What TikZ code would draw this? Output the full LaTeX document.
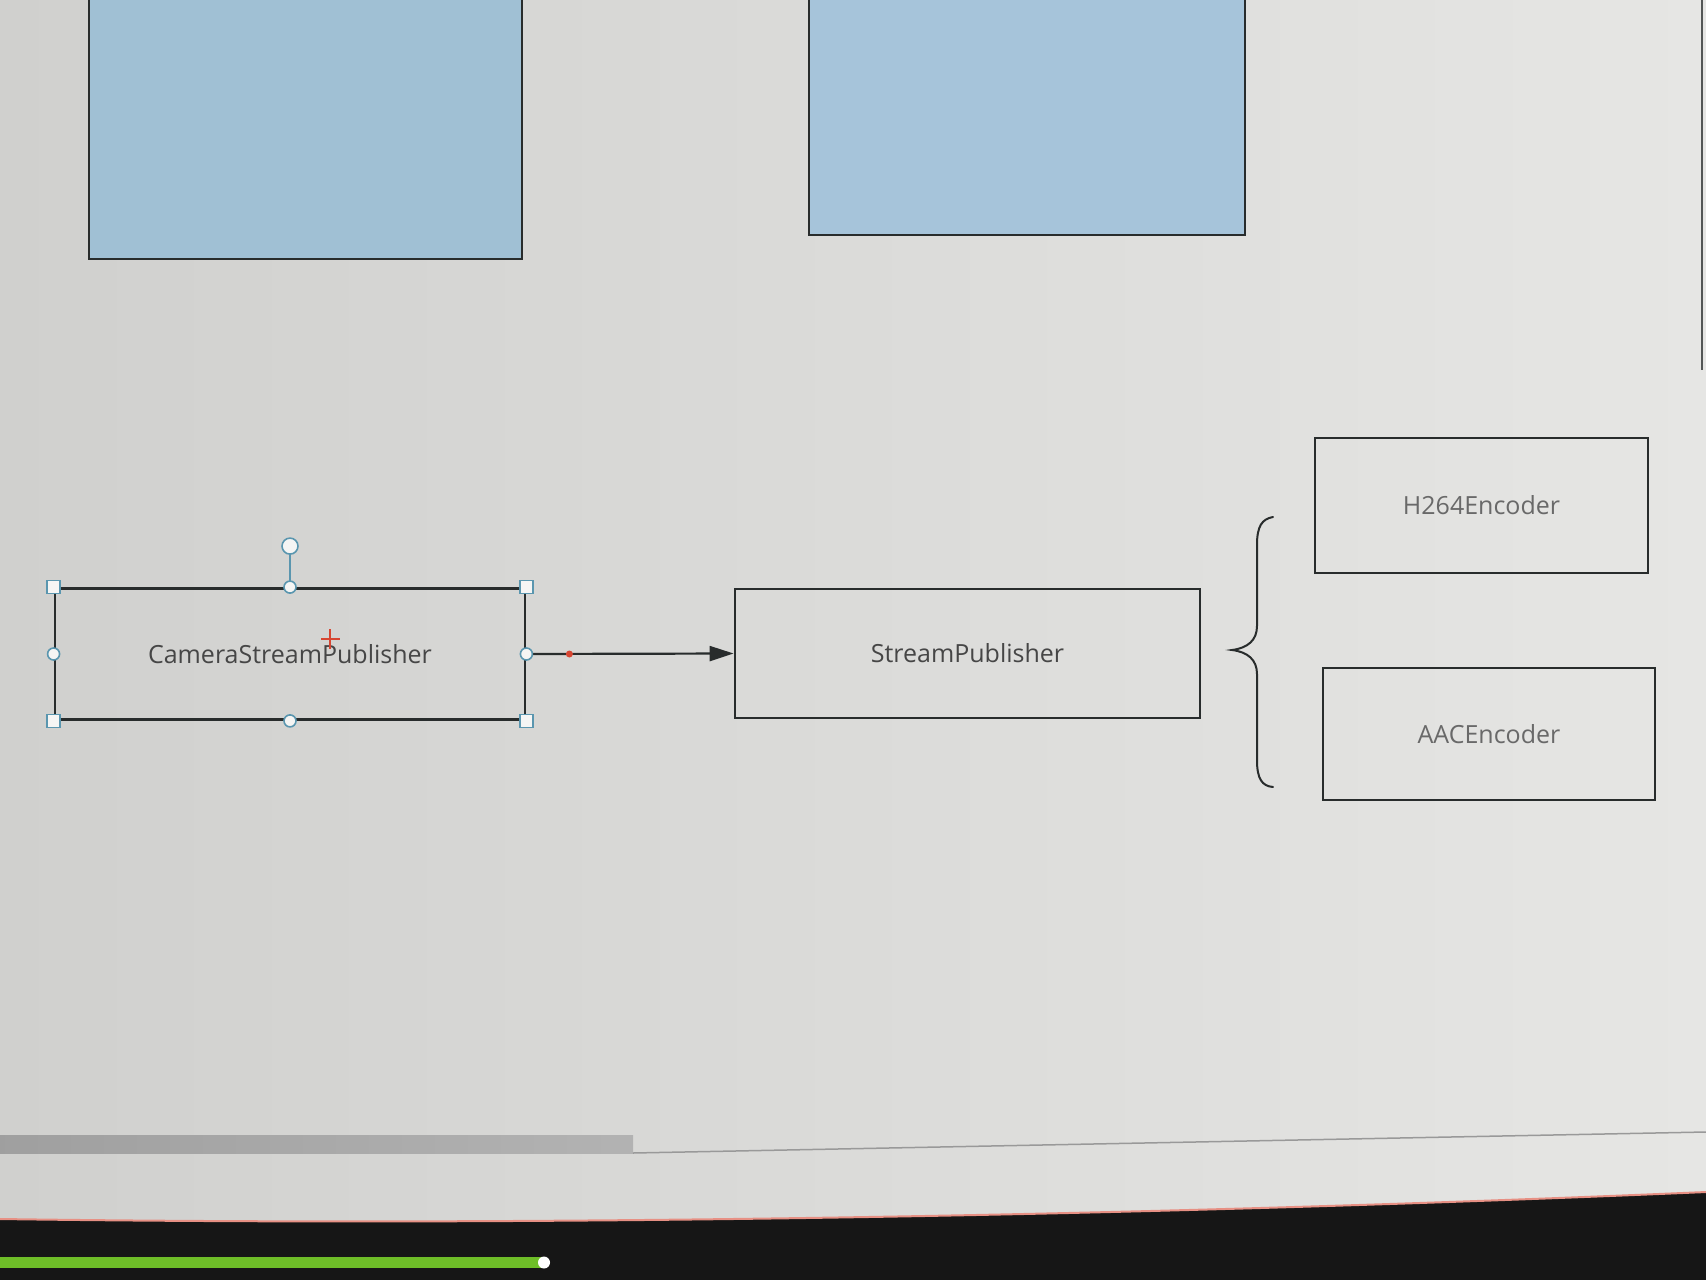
\documentclass[tikz,border=0pt]{standalone}
\usepackage{fontspec}
\setmainfont{Open Sans}
\usetikzlibrary{arrows.meta,calc}
\definecolor{bgc}{RGB}{221,221,219}
\definecolor{bgdark}{RGB}{208,208,206}
\definecolor{bglight}{RGB}{230,230,228}
\definecolor{bluefill}{RGB}{160,192,212}
\definecolor{bluefillb}{RGB}{166,196,218}
\definecolor{edgec}{RGB}{40,44,44}
\definecolor{txtc}{RGB}{70,70,70}
\definecolor{txtl}{RGB}{105,105,105}
\definecolor{handlec}{RGB}{90,150,175}
\definecolor{redc}{RGB}{215,70,50}
\definecolor{bezel}{RGB}{22,22,22}
\definecolor{greenc}{RGB}{110,190,40}
\tikzset{
  box/.style={draw=edgec, line width=2.8pt, inner sep=0pt, font=\fontsize{25}{29}\selectfont, text=txtc},
  encbox/.style={box, text=txtl},
  bluebox/.style={draw=edgec, line width=2.4pt, inner sep=0pt},
  sqhandle/.style={draw=handlec, line width=1.6pt, fill=white!70!bgc, minimum size=13pt, inner sep=0pt, rectangle},
  cihandle/.style={draw=handlec, line width=1.6pt, fill=white!70!bgc, minimum size=12pt, inner sep=0pt, circle},
  conn/.style={draw=edgec, line width=2.2pt, -{Triangle[length=24pt,width=15pt]}},
  bracestyle/.style={draw=edgec, line width=2pt, line cap=round}
}
\begin{document}
\begin{tikzpicture}[x=1pt,y=-1pt]
\useasboundingbox (0,0) rectangle (1706,1280);
\shade[shading angle=-60, left color=bgdark, right color=bglight] (0,0) rectangle (1706,1280);
% blue boxes at top
\node[bluebox, fill=bluefill, minimum width=433pt, minimum height=270pt] (blueA) at (305.5,124) {};
\node[bluebox, fill=bluefillb, minimum width=436pt, minimum height=246pt] (blueB) at (1027,112) {};
% main boxes
\node[box, minimum width=470pt, minimum height=131pt] (cam) at (290,654) {CameraStreamPublisher};
\node[box, minimum width=465pt, minimum height=129pt] (sp) at (967.5,653.5) {StreamPublisher};
\node[encbox, minimum width=333pt, minimum height=135pt] (h264) at (1481.5,505.5) {H264Encoder};
\node[encbox, minimum width=332pt, minimum height=132pt] (aac) at (1489,734) {AACEncoder};
% connector
\draw[conn] (cam.east) -- (sp.west);
\coordinate (rdot) at ($(cam.east)+(43,0)$);
% brace
\draw[bracestyle] (1273,517) .. controls (1262,519) and (1257,526) .. (1257,545)
  -- (1257,626) .. controls (1257,640) and (1248,648) .. (1232,650)
  .. controls (1248,652) and (1257,660) .. (1257,674)
  -- (1257,760) .. controls (1257,779) and (1262,786) .. (1273,787);
% selection handles
\node[cihandle, minimum size=16pt] (rot) at ($(cam.north)+(0,-41)$) {};
\draw[handlec, line width=1.6pt] (rot.south) -- (cam.north);
\foreach \a/\n in {north west/nw, north east/ne, south west/sw, south east/se}
  \node[sqhandle] (h\n) at (cam.\a) {};
\foreach \a/\n in {north/n, south/s, west/w, east/e}
  \node[cihandle] (c\n) at (cam.\a) {};
% red marks
\fill[redc] (rdot) circle (3.5pt);
\draw[redc, line width=2.6pt] (321,639) -- (340,639) (330,629) -- (330,649);
% right edge
\draw[edgec!80, line width=2pt] (1702,0) -- (1702,370);
% bottom: scroll bar and screen edge
\shade[left color=gray!75, right color=gray!60] (0,1135) rectangle (633,1153);
\draw[gray!80, line width=1.5pt] (633,1153) -- (1706,1132);
\fill[bezel] (0,1219) .. controls (500,1226) and (1100,1218) .. (1706,1192) -- (1706,1280) -- (0,1280) -- cycle;
\draw[redc!60!white, line width=2pt] (0,1219) .. controls (500,1226) and (1100,1218) .. (1706,1192);
\fill[greenc] (0,1257) rectangle (544,1268);
\fill[white] (544,1262.5) circle (6pt);
\end{tikzpicture}
\end{document}
